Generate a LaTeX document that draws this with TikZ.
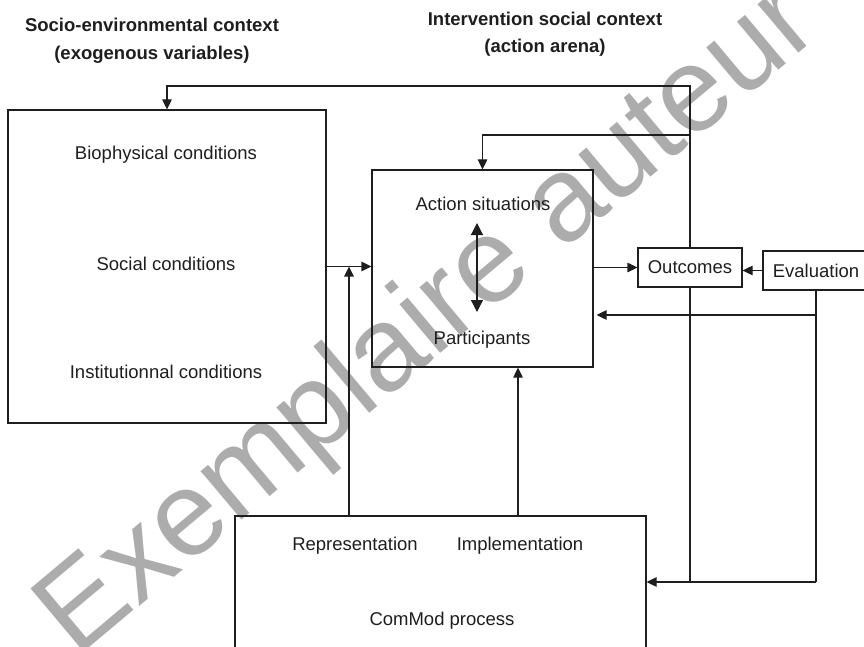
\documentclass[tikz,border=0pt]{standalone}
\usepackage{fontspec}
\setmainfont{Liberation Sans}
\usetikzlibrary{arrows.meta}
\definecolor{ink}{RGB}{30,30,30}
\definecolor{wmgray}{RGB}{172,172,172}
\begin{document}
\begin{tikzpicture}[x=1bp,y=-1bp,
  box/.style={draw=ink, line width=1.2bp, inner sep=0pt, text=ink, font=\fontsize{18.5bp}{22bp}\selectfont},
  lbl/.style={font=\fontsize{18.5bp}{22bp}\selectfont, text=ink, inner sep=0pt, anchor=base},
  ttl/.style={font=\fontsize{18.5bp}{28bp}\selectfont\bfseries, text=ink, inner sep=0pt, align=center},
  conn/.style={draw=ink, line width=1.2bp},
  arr/.style={conn, -{Triangle[length=10bp,width=9.5bp]}},
  darr/.style={conn, {Triangle[length=12bp,width=12bp]}-{Triangle[length=12bp,width=12bp]}},
  wm/.style={font=\fontsize{120bp}{120bp}\selectfont, text=wmgray, inner sep=0pt}
]
\useasboundingbox (0,0) rectangle (864,647);
% watermark
\node[wm, rotate=40] (wmark) at (430,322) {Exemplaire auteur};
% titles
\node[ttl] (t1) at (152,41) {Socio-environmental context\\(exogenous variables)};
\node[ttl, font=\fontsize{18.5bp}{27bp}\selectfont\bfseries] (t2) at (545,34) {Intervention social context\\(action arena)};
% boxes
\node[box, minimum width=318bp, minimum height=313bp] (env) at (167,266.5) {};
\node[box, minimum width=221bp, minimum height=197bp] (arena) at (482.5,268.5) {};
\node[box, minimum width=104bp, minimum height=39bp] (out) at (690,267.5) {Outcomes};
\node[box, minimum width=106bp, minimum height=39bp] (eval) at (816,270.5) {Evaluation};
\node[box, minimum width=411bp, minimum height=170bp] (cm) at (440.5,601) {};
% texts
\node[lbl] (bio) at (166,160) {Biophysical conditions};
\node[lbl] (soc) at (166,270) {Social conditions};
\node[lbl] (inst) at (166,378) {Institutionnal conditions};
\node[lbl] (act) at (483,211) {Action situations};
\node[lbl] (part) at (482,344) {Participants};
\node[lbl] (repr) at (355,550) {Representation};
\node[lbl] (impl) at (520,550) {Implementation};
\node[lbl] (cmp) at (442,625) {ComMod process};
% junction coordinates
\coordinate (top) at (689,86);
\coordinate (top2) at (689,135);
\coordinate (evb) at (816,315);
\coordinate (bot) at (816,582);
\coordinate (repb) at (349,516);
\coordinate (impb) at (518,516);
\coordinate (dtop) at (477,223);
\coordinate (dbot) at (477,312);
% connectors
\draw[arr] (out.north) -- (out.north |- top) -| (env.north);
\draw[arr] (top2) -| (arena.north);
\draw[arr] (env.east) -- (env.east -| arena.west);
\draw[arr] (repb) -- (repb |- env.east);
\draw[arr] (impb) -- (impb |- arena.south);
\draw[arr] (arena.east |- out.west) -- (out.west);
\draw[arr] (eval.west) -- (eval.west -| out.east);
\draw[conn] (eval.south) -- (bot);
\draw[arr] (bot) -- (bot -| cm.east);
\draw[arr, shorten >=3bp] (evb) -- (evb -| arena.east);
\draw[conn] (out.south) -- (out.south |- bot);
\draw[darr] (dtop) -- (dbot);
\end{tikzpicture}
\end{document}
